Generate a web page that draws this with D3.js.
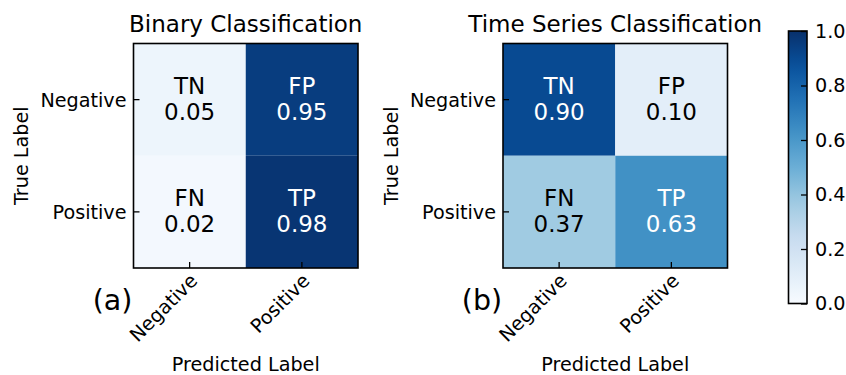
<!DOCTYPE html>
<html>
<head>
<meta charset="utf-8">
<script src="https://cdn.jsdelivr.net/npm/d3@7"></script>
<style>
  html, body { margin: 0; padding: 0; background: #fff; }
  svg { display: block; font-family: "DejaVu Sans", sans-serif; }
</style>
</head>
<body>
<svg id="chart" width="846" height="375"></svg>
<script>
// Confusion-matrix data
const classes = ["Negative", "Positive"];
const cellNames = [["TN", "FP"], ["FN", "TP"]];
const binaryValues = [[0.05, 0.95], [0.02, 0.98]];
const timeSeriesValues = [[0.90, 0.10], [0.37, 0.63]];
const panelTitles = ["Binary Classification", "Time Series Classification"];
const panelTags = ["(a)", "(b)"];
const colorbarTicks = [0.0, 0.2, 0.4, 0.6, 0.8, 1.0];

// Blues colour map (ColorBrewer stops, linearly interpolated)
const bluesStops = ["#f7fbff", "#deebf7", "#c6dbef", "#9ecae1", "#6baed6",
                    "#4292c6", "#2171b5", "#08519c", "#08306b"];
const color = d3.scaleLinear()
  .domain(d3.range(bluesStops.length).map(i => i / (bluesStops.length - 1)))
  .range(bluesStops)
  .interpolate(d3.interpolateRgb)
  .clamp(true);

const svg = d3.select("#chart");
const panels = [
  { values: binaryValues, x0: 133.5, title: panelTitles[0], tag: panelTags[0] },
  { values: timeSeriesValues, x0: 503, title: panelTitles[1], tag: panelTags[1] }
];
const matSize = 224.5, matTop = 43.5;
const tickLen = 6;

panels.forEach(p => {
  const g = svg.append("g");
  const x = d3.scaleBand().domain(classes).range([p.x0, p.x0 + matSize]);
  const y = d3.scaleBand().domain(classes).range([matTop, matTop + matSize]);

  const cells = [];
  classes.forEach((t, i) => classes.forEach((pr, j) => {
    cells.push({ t, pr, v: p.values[i][j], name: cellNames[i][j] });
  }));

  g.selectAll("rect.cell").data(cells).join("rect")
    .attr("class", "cell")
    .attr("x", d => x(d.pr)).attr("y", d => y(d.t))
    .attr("width", x.bandwidth()).attr("height", y.bandwidth())
    .attr("fill", d => color(d.v));

  const txt = g.selectAll("g.lab").data(cells).join("g")
    .attr("class", "lab")
    .attr("transform", d => `translate(${x(d.pr) + x.bandwidth() / 2},${y(d.t) + y.bandwidth() / 2})`)
    .attr("fill", d => d.v > 0.5 ? "#fff" : "#000")
    .attr("font-size", 23)
    .attr("text-anchor", "middle");
  txt.append("text").attr("y", -6).text(d => d.name);
  txt.append("text").attr("y", 20).text(d => d.v.toFixed(2));

  // ticks (inward)
  classes.forEach(c => {
    const cx = x(c) + x.bandwidth() / 2;
    const cy = y(c) + y.bandwidth() / 2;
    g.append("line").attr("x1", p.x0).attr("x2", p.x0 + tickLen)
      .attr("y1", cy).attr("y2", cy).attr("stroke", "#000").attr("stroke-width", 1.3);
    g.append("line").attr("x1", cx).attr("x2", cx)
      .attr("y1", matTop + matSize).attr("y2", matTop + matSize - tickLen)
      .attr("stroke", "#000").attr("stroke-width", 1.3);
    g.append("text").attr("x", p.x0 - 7).attr("y", cy + 7)
      .attr("text-anchor", "end").attr("font-size", 19.2).text(c);
    g.append("text")
      .attr("transform", `translate(${cx + 9},${matTop + matSize + 14}) rotate(-45)`)
      .attr("text-anchor", "end").attr("font-size", 19.2).text(c);
  });

  g.append("rect").attr("x", p.x0).attr("y", matTop).attr("width", matSize).attr("height", matSize)
    .attr("fill", "none").attr("stroke", "#000").attr("stroke-width", 1.6);

  g.append("text").attr("x", p.x0 + matSize / 2).attr("y", 32)
    .attr("text-anchor", "middle").attr("font-size", 23).text(p.title);
  g.append("text").attr("transform", `translate(${p.x0 - 105.5},${matTop + matSize / 2}) rotate(-90)`)
    .attr("text-anchor", "middle").attr("font-size", 19.2).text("True Label");
  g.append("text").attr("x", p.x0 + matSize / 2).attr("y", 371)
    .attr("text-anchor", "middle").attr("font-size", 19.2).text("Predicted Label");
  g.append("text").attr("x", p.x0 - 21).attr("y", 310)
    .attr("text-anchor", "middle").attr("font-size", 28.5).text(p.tag);
});

// Colour bar
const cb = { x: 788.5, y: 31, w: 18.5, h: 272.5 };
const grad = svg.append("defs").append("linearGradient")
  .attr("id", "cbgrad").attr("x1", 0).attr("y1", 1).attr("x2", 0).attr("y2", 0);
grad.selectAll("stop").data(d3.range(0, 1.0001, 0.05)).join("stop")
  .attr("offset", d => d).attr("stop-color", d => color(d));
const cbScale = d3.scaleLinear().domain([0, 1]).range([cb.y + cb.h, cb.y]);
svg.append("rect").attr("x", cb.x).attr("y", cb.y).attr("width", cb.w).attr("height", cb.h)
  .attr("fill", "url(#cbgrad)");
const cbAxis = svg.append("g").attr("transform", `translate(${cb.x + cb.w},0)`)
  .call(d3.axisRight(cbScale).tickValues(colorbarTicks).tickFormat(d3.format(".1f"))
    .tickSizeInner(-tickLen).tickSizeOuter(0).tickPadding(8));
cbAxis.select(".domain").remove();
cbAxis.selectAll(".tick line").attr("stroke", "#000").attr("stroke-width", 1.3);
cbAxis.selectAll(".tick text").attr("font-size", 19.2).attr("font-family", "DejaVu Sans, sans-serif")
  .attr("fill", "#000");
svg.append("rect").attr("x", cb.x).attr("y", cb.y).attr("width", cb.w).attr("height", cb.h)
  .attr("fill", "none").attr("stroke", "#000").attr("stroke-width", 1.6);
</script>
</body>
</html>
